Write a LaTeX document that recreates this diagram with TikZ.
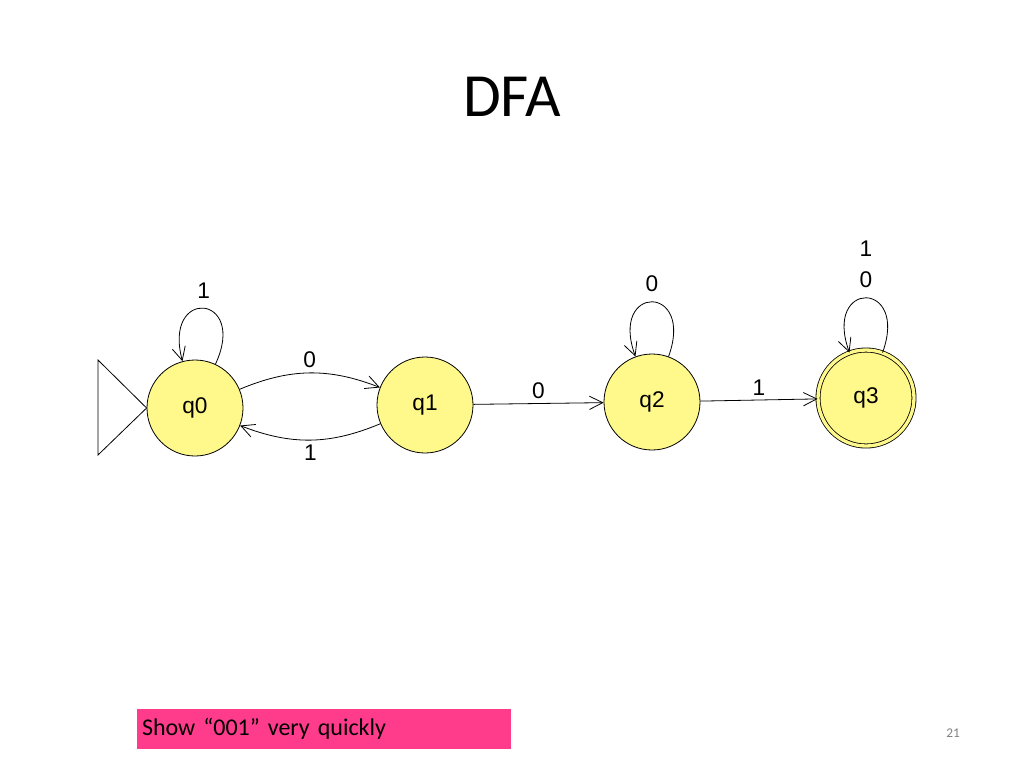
\documentclass[tikz,border=0pt]{standalone}
\usepackage{fontspec}
\setmainfont{Carlito}
\newfontfamily\statefont{Liberation Sans}
\usetikzlibrary{automata,arrows.meta,positioning,calc}
\begin{document}
\begin{tikzpicture}[x=0.75pt,y=-0.75pt,>={Straight Barb[length=10pt,width=10pt]}, auto, semithick,
    dstate/.style={circle,draw=black,fill=yellow!45,minimum size=72pt,inner sep=0pt,font=\statefont\fontsize{17}{19}\selectfont},
    accept/.style={double=yellow!45,double distance=2.5pt,fill=yellow!45},
    lbl/.style={font=\statefont\fontsize{17}{19}\selectfont}]
    \useasboundingbox (0,0) rectangle (1024,768);
    \node[font=\fontsize{46}{52}\selectfont] (title) at (512,97) {DFA};
    \node[dstate] at (195,408) (q0) {q0};
    \node[dstate] at (425,405) (q1) {q1};
    \node[dstate] at (652,402) (q2) {q2};
    \node[dstate,accept] at (866,398) (q3) {q3};
    % start marker
    \coordinate (s1) at (98,360); \coordinate (s2) at (98,455);
    \draw (s1) -- (q0.west) -- (s2) -- cycle;
    \draw[->] (q0) to[out=65,in=105,looseness=6] node[lbl,above=4pt] {1} (q0);
    \draw[->] (q2) to[out=70,in=110,looseness=6] node[lbl,above=4pt] {0} (q2);
    \draw[->] (q3) to[out=70,in=110,looseness=6] node[lbl,above=4pt,align=center] {1\\[4pt]0} (q3);
    \draw[->] (q0) to[bend left=22] node[lbl] {0} (q1);
    \draw[->] (q1) to[bend left=22] node[lbl] {1} (q0);
    \draw[->] (q1) -- node[lbl] {0} (q2);
    \draw[->] (q2) -- node[lbl] {1} (q3);
    \node[fill={rgb,255:red,255;green,60;blue,140},minimum width=281pt,minimum height=30pt,
      text width=273pt,font=\fontsize{18}{21}\selectfont] (note) at (324,729) {Show “001” very quickly};
    \node[text=gray,font=\fontsize{10}{12}\selectfont] (page) at (953,733) {21};
\end{tikzpicture}
\end{document}
